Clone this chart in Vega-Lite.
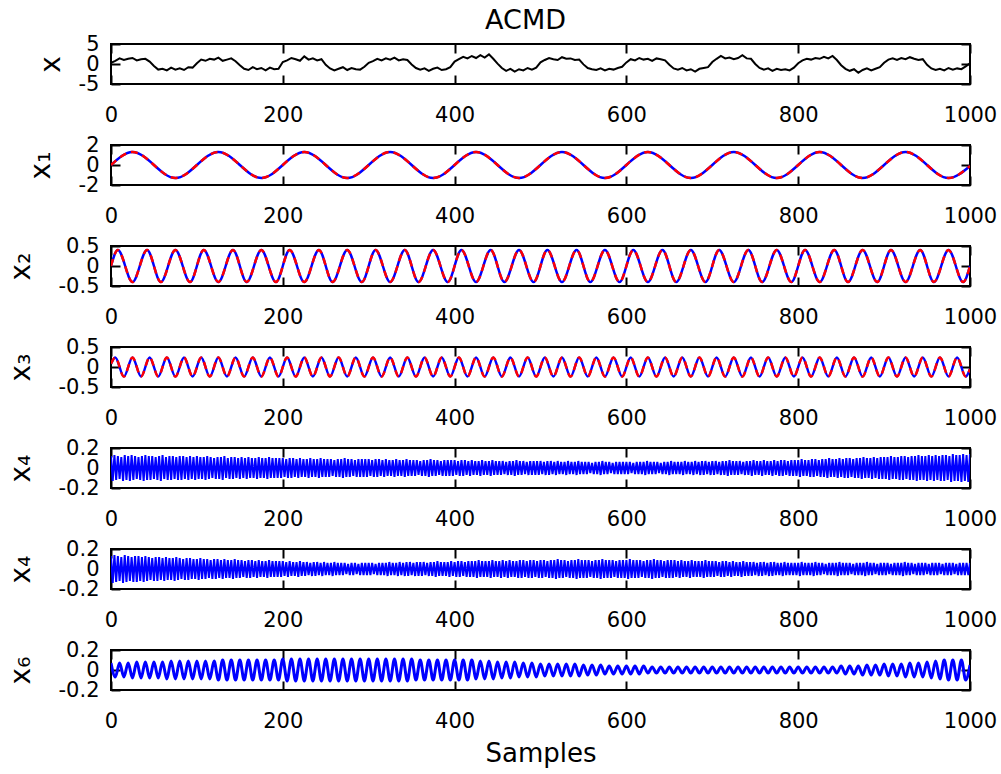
{
  "$schema": "https://vega.github.io/schema/vega-lite/v6.json",
  "usermeta": {"embedOptions": {"actions": false}},
  "background": "white",
  "padding": {"left": 6, "top": 6, "right": 5, "bottom": 5},
  "bounds": "flush",
  "spacing": 61,
  "config": {
    "font": "DejaVu Sans",
    "view": {"stroke": "black", "strokeWidth": 2},
    "axis": {
      "grid": false, "domain": false,
      "tickColor": "black", "tickWidth": 2, "tickSize": -9,
      "labelColor": "black", "labelFont": "DejaVu Sans", "labelFontSize": 21,
      "labelFlush": false, "labelOverlap": false, "labelBound": false,
      "titleColor": "black", "titleFont": "DejaVu Sans", "titleFontWeight": "normal", "titleFontSize": 28
    },
    "axisX": {"labelPadding": 29},
    "axisY": {"labelPadding": 21}
  },
  "datasets": {
    "a": [
      {"n":0,"x":0.3,"x6":0.07,"x1":0,"x3":0.08},
      {"n":5,"x":0.8,"x6":-0.07,"x3":0.24},
      {"n":10,"x":1.4,"x6":0.07},
      {"n":15,"x":1.0,"x6":-0.07,"x3":-0.24},
      {"n":20,"x":1.3,"x6":0.07},
      {"n":25,"x":1.5,"x6":-0.08,"x1":1.3,"x3":0.24},
      {"n":30,"x":0.9,"x6":0.08},
      {"n":35,"x":1.2,"x6":-0.08,"x3":-0.24},
      {"n":40,"x":1.3,"x6":0.08},
      {"n":45,"x":0.6,"x6":-0.08,"x3":0.24},
      {"n":50,"x":-0.5,"x6":0.08},
      {"n":55,"x":-1.4,"x6":-0.08,"x3":-0.24},
      {"n":60,"x":-1.2,"x6":0.08},
      {"n":65,"x":-1.6,"x6":-0.09,"x3":0.24},
      {"n":70,"x":-0.9,"x6":0.09},
      {"n":75,"x":-1.4,"x6":-0.09,"x1":-1.3,"x3":-0.24},
      {"n":80,"x":-1.1,"x6":0.09},
      {"n":85,"x":-1.5,"x6":-0.09,"x3":0.24},
      {"n":90,"x":-0.8,"x6":0.09},
      {"n":95,"x":-0.9,"x6":-0.09,"x3":-0.24},
      {"n":100,"x":0.2,"x6":0.09},
      {"n":105,"x":1.1,"x6":-0.09,"x3":0.24},
      {"n":110,"x":0.8,"x6":0.09},
      {"n":115,"x":1.3,"x6":-0.09,"x3":-0.24},
      {"n":120,"x":1.1,"x6":0.09},
      {"n":125,"x":1.6,"x6":-0.1,"x1":1.3,"x3":0.24},
      {"n":130,"x":0.8,"x6":0.1},
      {"n":135,"x":1.1,"x6":-0.1,"x3":-0.24},
      {"n":140,"x":1.4,"x6":0.1},
      {"n":145,"x":0.7,"x6":-0.1,"x3":0.24},
      {"n":150,"x":-0.3,"x6":0.1},
      {"n":155,"x":-1.2,"x6":-0.1,"x3":-0.24},
      {"n":160,"x":-1.5,"x6":0.1},
      {"n":165,"x":-0.8,"x6":-0.1,"x3":0.24},
      {"n":170,"x":-1.3,"x6":0.1},
      {"n":175,"x":-1.0,"x6":-0.1,"x1":-1.3,"x3":-0.24},
      {"n":180,"x":-1.6,"x6":0.1},
      {"n":185,"x":-0.9,"x6":-0.1,"x3":0.24},
      {"n":190,"x":-1.3,"x6":0.1},
      {"n":195,"x":-1.2,"x6":-0.1,"x3":-0.24},
      {"n":200,"x":0.5,"x6":0.11},
      {"n":205,"x":0.9,"x6":-0.11,"x3":0.24},
      {"n":210,"x":1.5,"x6":0.11},
      {"n":215,"x":1.2,"x6":-0.11,"x3":-0.24},
      {"n":220,"x":0.8,"x6":0.11},
      {"n":225,"x":1.9,"x6":-0.11,"x1":1.3,"x3":0.24},
      {"n":230,"x":1.1,"x6":0.11},
      {"n":235,"x":1.4,"x6":-0.11,"x3":-0.24},
      {"n":240,"x":0.9,"x6":0.11},
      {"n":245,"x":1.2,"x6":-0.11,"x3":0.24},
      {"n":250,"x":-0.2,"x6":0.11},
      {"n":255,"x":-1.1,"x6":-0.11,"x3":-0.24},
      {"n":260,"x":-1.6,"x6":0.11},
      {"n":265,"x":-1.2,"x6":-0.11,"x3":0.24},
      {"n":270,"x":-0.8,"x6":0.11},
      {"n":275,"x":-1.5,"x6":-0.11,"x1":-1.3,"x3":-0.24},
      {"n":280,"x":-1.0,"x6":0.11},
      {"n":285,"x":-1.3,"x6":-0.11,"x3":0.24},
      {"n":290,"x":-1.4,"x6":0.11},
      {"n":295,"x":-0.7,"x6":-0.11,"x3":-0.24},
      {"n":300,"x":0.3,"x6":0.11},
      {"n":305,"x":0.7,"x6":-0.11,"x3":0.24},
      {"n":310,"x":1.3,"x6":0.11},
      {"n":315,"x":0.9,"x6":-0.11,"x3":-0.24},
      {"n":320,"x":1.4,"x6":0.11},
      {"n":325,"x":1.1,"x6":-0.11,"x1":1.3,"x3":0.24},
      {"n":330,"x":1.6,"x6":0.11},
      {"n":335,"x":0.9,"x6":-0.11,"x3":-0.24},
      {"n":340,"x":1.2,"x6":0.11},
      {"n":345,"x":1.0,"x6":-0.11,"x3":0.24},
      {"n":350,"x":-0.1,"x6":0.11},
      {"n":355,"x":-1.0,"x6":-0.1,"x3":-0.24},
      {"n":360,"x":-1.4,"x6":0.1},
      {"n":365,"x":-1.1,"x6":-0.1,"x3":0.24},
      {"n":370,"x":-1.7,"x6":0.1},
      {"n":375,"x":-1.2,"x6":-0.1,"x1":-1.3,"x3":-0.24},
      {"n":380,"x":-0.9,"x6":0.1},
      {"n":385,"x":-1.5,"x6":-0.1,"x3":0.24},
      {"n":390,"x":-1.3,"x6":0.1},
      {"n":395,"x":-0.8,"x6":-0.1,"x3":-0.24},
      {"n":400,"x":0.6,"x6":0.1},
      {"n":405,"x":1.2,"x6":-0.1,"x3":0.24},
      {"n":410,"x":1.8,"x6":0.1},
      {"n":415,"x":1.4,"x6":-0.1,"x3":-0.24},
      {"n":420,"x":2.0,"x6":0.1},
      {"n":425,"x":1.5,"x6":-0.09,"x1":1.3,"x3":0.24},
      {"n":430,"x":2.2,"x6":0.09},
      {"n":435,"x":1.6,"x6":-0.09,"x3":-0.24},
      {"n":440,"x":2.4,"x6":0.09},
      {"n":445,"x":1.3,"x6":-0.09,"x3":0.24},
      {"n":450,"x":0.1,"x6":0.08},
      {"n":455,"x":-1.0,"x6":-0.08,"x3":-0.24},
      {"n":460,"x":-1.7,"x6":0.08},
      {"n":465,"x":-1.2,"x6":-0.08,"x3":0.24},
      {"n":470,"x":-1.9,"x6":0.08},
      {"n":475,"x":-1.3,"x6":-0.07,"x1":-1.3,"x3":-0.24},
      {"n":480,"x":-1.6,"x6":0.07},
      {"n":485,"x":-1.0,"x6":-0.07,"x3":0.24},
      {"n":490,"x":-1.4,"x6":0.07},
      {"n":495,"x":-0.9,"x6":-0.07,"x3":-0.24},
      {"n":500,"x":0.4,"x6":0.06},
      {"n":505,"x":1.0,"x6":-0.06,"x3":0.24},
      {"n":510,"x":1.5,"x6":0.06},
      {"n":515,"x":1.2,"x6":-0.06,"x3":-0.24},
      {"n":520,"x":1.0,"x6":0.06},
      {"n":525,"x":1.7,"x6":-0.06,"x1":1.3,"x3":0.24},
      {"n":530,"x":1.3,"x6":0.06},
      {"n":535,"x":1.4,"x6":-0.06,"x3":-0.24},
      {"n":540,"x":1.0,"x6":0.06},
      {"n":545,"x":1.1,"x6":-0.06,"x3":0.24},
      {"n":550,"x":-0.1,"x6":0.05},
      {"n":555,"x":-1.0,"x6":-0.05,"x3":-0.24},
      {"n":560,"x":-1.3,"x6":0.05},
      {"n":565,"x":-1.5,"x6":-0.05,"x3":0.24},
      {"n":570,"x":-1.1,"x6":0.05},
      {"n":575,"x":-1.6,"x6":-0.04,"x1":-1.3,"x3":-0.24},
      {"n":580,"x":-1.2,"x6":0.04},
      {"n":585,"x":-1.4,"x6":-0.04,"x3":0.24},
      {"n":590,"x":-1.0,"x6":0.04},
      {"n":595,"x":-0.7,"x6":-0.04,"x3":-0.24},
      {"n":600,"x":0.4,"x6":0.04},
      {"n":605,"x":1.2,"x6":-0.04,"x3":0.24},
      {"n":610,"x":0.9,"x6":0.04},
      {"n":615,"x":1.5,"x6":-0.04,"x3":-0.24},
      {"n":620,"x":1.1,"x6":0.04},
      {"n":625,"x":1.3,"x6":-0.03,"x1":1.3,"x3":0.24},
      {"n":630,"x":0.8,"x6":0.03},
      {"n":635,"x":1.4,"x6":-0.03,"x3":-0.24},
      {"n":640,"x":1.2,"x6":0.03},
      {"n":645,"x":0.9,"x6":-0.03,"x3":0.24},
      {"n":650,"x":-0.2,"x6":0.03},
      {"n":655,"x":-1.1,"x6":-0.03,"x3":-0.24},
      {"n":660,"x":-1.4,"x6":0.03},
      {"n":665,"x":-1.0,"x6":-0.03,"x3":0.24},
      {"n":670,"x":-1.6,"x6":0.03},
      {"n":675,"x":-1.3,"x6":-0.03,"x1":-1.3,"x3":-0.24},
      {"n":680,"x":-1.9,"x6":0.03},
      {"n":685,"x":-1.2,"x6":-0.03,"x3":0.24},
      {"n":690,"x":-1.0,"x6":0.03},
      {"n":695,"x":-0.8,"x6":-0.03,"x3":-0.24},
      {"n":700,"x":0.5,"x6":0.03},
      {"n":705,"x":1.3,"x6":-0.03,"x3":0.24},
      {"n":710,"x":2.0,"x6":0.03},
      {"n":715,"x":1.4,"x6":-0.03,"x3":-0.24},
      {"n":720,"x":1.6,"x6":0.03},
      {"n":725,"x":1.2,"x6":-0.03,"x1":1.3,"x3":0.24},
      {"n":730,"x":1.5,"x6":0.03},
      {"n":735,"x":2.2,"x6":-0.03,"x3":-0.24},
      {"n":740,"x":1.4,"x6":0.03},
      {"n":745,"x":1.3,"x6":-0.03,"x3":0.24},
      {"n":750,"x":0.0,"x6":0.03},
      {"n":755,"x":-1.0,"x6":-0.03,"x3":-0.24},
      {"n":760,"x":-1.4,"x6":0.03},
      {"n":765,"x":-1.1,"x6":-0.03,"x3":0.24},
      {"n":770,"x":-1.7,"x6":0.03},
      {"n":775,"x":-1.2,"x6":-0.03,"x1":-1.3,"x3":-0.24},
      {"n":780,"x":-1.5,"x6":0.03},
      {"n":785,"x":-1.3,"x6":-0.03,"x3":0.24},
      {"n":790,"x":-1.6,"x6":0.03},
      {"n":795,"x":-0.9,"x6":-0.03,"x3":-0.24},
      {"n":800,"x":0.2,"x6":0.03},
      {"n":805,"x":0.9,"x6":-0.03,"x3":0.24},
      {"n":810,"x":1.3,"x6":0.03},
      {"n":815,"x":1.1,"x6":-0.03,"x3":-0.24},
      {"n":820,"x":1.5,"x6":0.03},
      {"n":825,"x":1.3,"x6":-0.03,"x1":1.3,"x3":0.24},
      {"n":830,"x":1.8,"x6":0.03},
      {"n":835,"x":1.4,"x6":-0.03,"x3":-0.24},
      {"n":840,"x":2.0,"x6":0.03},
      {"n":845,"x":1.0,"x6":-0.03,"x3":0.24},
      {"n":850,"x":-0.3,"x6":0.04},
      {"n":855,"x":-1.2,"x6":-0.04,"x3":-0.24},
      {"n":860,"x":-1.7,"x6":0.04},
      {"n":865,"x":-1.3,"x6":-0.04,"x3":0.24},
      {"n":870,"x":-2.2,"x6":0.04},
      {"n":875,"x":-1.5,"x6":-0.05,"x1":-1.3,"x3":-0.24},
      {"n":880,"x":-1.1,"x6":0.05},
      {"n":885,"x":-1.6,"x6":-0.05,"x3":0.24},
      {"n":890,"x":-1.2,"x6":0.05},
      {"n":895,"x":-0.8,"x6":-0.05,"x3":-0.24},
      {"n":900,"x":0.3,"x6":0.06},
      {"n":905,"x":1.1,"x6":-0.06,"x3":0.24},
      {"n":910,"x":1.4,"x6":0.06},
      {"n":915,"x":1.0,"x6":-0.06,"x3":-0.24},
      {"n":920,"x":1.5,"x6":0.06},
      {"n":925,"x":1.2,"x6":-0.07,"x1":1.3,"x3":0.24},
      {"n":930,"x":1.7,"x6":0.07},
      {"n":935,"x":1.3,"x6":-0.07,"x3":-0.24},
      {"n":940,"x":1.0,"x6":0.07},
      {"n":945,"x":1.2,"x6":-0.07,"x3":0.24},
      {"n":950,"x":-0.2,"x6":0.08},
      {"n":955,"x":-1.1,"x6":-0.08,"x3":-0.24},
      {"n":960,"x":-1.5,"x6":0.09},
      {"n":965,"x":-1.2,"x6":-0.09,"x3":0.24},
      {"n":970,"x":-1.6,"x6":0.1},
      {"n":975,"x":-1.0,"x6":-0.1,"x1":-1.3,"x3":-0.24},
      {"n":980,"x":-1.4,"x6":0.1},
      {"n":985,"x":-1.1,"x6":-0.1,"x3":0.24},
      {"n":990,"x":-1.3,"x6":0.1},
      {"n":995,"x":-0.6,"x6":-0.1,"x3":-0.24},
      {"n":1000,"x":0.2,"x6":0.05,"x1":-0.1,"x3":-0.05}
    ],
    "c": [
      {"n":0,"x2":0},{"n":8,"x2":0.4},{"n":25,"x2":-0.4},{"n":42,"x2":0.4},{"n":58,"x2":-0.4},
      {"n":75,"x2":0.4},{"n":92,"x2":-0.4},{"n":108,"x2":0.4},{"n":125,"x2":-0.4},{"n":142,"x2":0.4},
      {"n":158,"x2":-0.4},{"n":175,"x2":0.4},{"n":192,"x2":-0.4},{"n":208,"x2":0.4},{"n":225,"x2":-0.4},
      {"n":242,"x2":0.4},{"n":258,"x2":-0.4},{"n":275,"x2":0.4},{"n":292,"x2":-0.4},{"n":308,"x2":0.4},
      {"n":325,"x2":-0.4},{"n":342,"x2":0.4},{"n":358,"x2":-0.4},{"n":375,"x2":0.4},{"n":392,"x2":-0.4},
      {"n":408,"x2":0.4},{"n":425,"x2":-0.4},{"n":442,"x2":0.4},{"n":458,"x2":-0.4},{"n":475,"x2":0.4},
      {"n":492,"x2":-0.4},{"n":508,"x2":0.4},{"n":525,"x2":-0.4},{"n":542,"x2":0.4},{"n":558,"x2":-0.4},
      {"n":575,"x2":0.4},{"n":592,"x2":-0.4},{"n":608,"x2":0.4},{"n":625,"x2":-0.4},{"n":642,"x2":0.4},
      {"n":658,"x2":-0.4},{"n":675,"x2":0.4},{"n":692,"x2":-0.4},{"n":708,"x2":0.4},{"n":725,"x2":-0.4},
      {"n":742,"x2":0.4},{"n":758,"x2":-0.4},{"n":775,"x2":0.4},{"n":792,"x2":-0.4},{"n":808,"x2":0.4},
      {"n":825,"x2":-0.4},{"n":842,"x2":0.4},{"n":858,"x2":-0.4},{"n":875,"x2":0.4},{"n":892,"x2":-0.4},
      {"n":908,"x2":0.4},{"n":925,"x2":-0.4},{"n":942,"x2":0.4},{"n":958,"x2":-0.4},{"n":975,"x2":0.4},
      {"n":992,"x2":-0.4},{"n":1000,"x2":0}
    ],
    "b": [
      {"n":0,"a":0.12,"b":0.13},{"n":2,"a":-0.13,"b":-0.14},{"n":4,"a":0.13,"b":0.14},{"n":6,"a":-0.12,"b":-0.13},{"n":8,"a":0.12,"b":0.13},{"n":10,"a":-0.11,"b":-0.12},{"n":12,"a":0.11,"b":0.12},{"n":14,"a":-0.13,"b":-0.14},{"n":16,"a":0.13,"b":0.14},{"n":18,"a":-0.12,"b":-0.13},
      {"n":20,"a":0.12,"b":0.13},{"n":22,"a":-0.13,"b":-0.12},{"n":24,"a":0.13,"b":0.12},{"n":26,"a":-0.12,"b":-0.13},{"n":28,"a":0.12,"b":0.13},{"n":30,"a":-0.11,"b":-0.13},{"n":32,"a":0.11,"b":0.13},{"n":34,"a":-0.12,"b":-0.12},{"n":36,"a":0.12,"b":0.12},{"n":38,"a":-0.13,"b":-0.13},
      {"n":40,"a":0.13,"b":0.13},{"n":42,"a":-0.12,"b":-0.12},{"n":44,"a":0.12,"b":0.12},{"n":46,"a":-0.12,"b":-0.11},{"n":48,"a":0.12,"b":0.11},{"n":50,"a":-0.11,"b":-0.12},{"n":52,"a":0.11,"b":0.12},{"n":54,"a":-0.12,"b":-0.12},{"n":56,"a":0.12,"b":0.12},{"n":58,"a":-0.13,"b":-0.11},
      {"n":60,"a":0.13,"b":0.11},{"n":62,"a":-0.11,"b":-0.12},{"n":64,"a":0.11,"b":0.12},{"n":66,"a":-0.12,"b":-0.11},{"n":68,"a":0.12,"b":0.11},{"n":70,"a":-0.12,"b":-0.11},{"n":72,"a":0.12,"b":0.11},{"n":74,"a":-0.11,"b":-0.12},{"n":76,"a":0.11,"b":0.12},{"n":78,"a":-0.12,"b":-0.11},
      {"n":80,"a":0.12,"b":0.11},{"n":82,"a":-0.12,"b":-0.1},{"n":84,"a":0.12,"b":0.1},{"n":86,"a":-0.11,"b":-0.11},{"n":88,"a":0.11,"b":0.11},{"n":90,"a":-0.12,"b":-0.11},{"n":92,"a":0.12,"b":0.11},{"n":94,"a":-0.11,"b":-0.1},{"n":96,"a":0.11,"b":0.1},{"n":98,"a":-0.12,"b":-0.1},
      {"n":100,"a":0.12,"b":0.1},{"n":102,"a":-0.11,"b":-0.11},{"n":104,"a":0.11,"b":0.11},{"n":106,"a":-0.11,"b":-0.1},{"n":108,"a":0.11,"b":0.1},{"n":110,"a":-0.12,"b":-0.1},{"n":112,"a":0.12,"b":0.1},{"n":114,"a":-0.11,"b":-0.09},{"n":116,"a":0.11,"b":0.09},{"n":118,"a":-0.1,"b":-0.1},
      {"n":120,"a":0.1,"b":0.1},{"n":122,"a":-0.11,"b":-0.1},{"n":124,"a":0.11,"b":0.1},{"n":126,"a":-0.11,"b":-0.09},{"n":128,"a":0.11,"b":0.09},{"n":130,"a":-0.12,"b":-0.1},{"n":132,"a":0.12,"b":0.1},{"n":134,"a":-0.1,"b":-0.09},{"n":136,"a":0.1,"b":0.09},{"n":138,"a":-0.11,"b":-0.09},
      {"n":140,"a":0.11,"b":0.09},{"n":142,"a":-0.11,"b":-0.1},{"n":144,"a":0.11,"b":0.1},{"n":146,"a":-0.1,"b":-0.09},{"n":148,"a":0.1,"b":0.09},{"n":150,"a":-0.11,"b":-0.09},{"n":152,"a":0.11,"b":0.09},{"n":154,"a":-0.1,"b":-0.08},{"n":156,"a":0.1,"b":0.08},{"n":158,"a":-0.11,"b":-0.09},
      {"n":160,"a":0.11,"b":0.09},{"n":162,"a":-0.1,"b":-0.09},{"n":164,"a":0.1,"b":0.09},{"n":166,"a":-0.1,"b":-0.08},{"n":168,"a":0.1,"b":0.08},{"n":170,"a":-0.11,"b":-0.09},{"n":172,"a":0.11,"b":0.09},{"n":174,"a":-0.1,"b":-0.08},{"n":176,"a":0.1,"b":0.08},{"n":178,"a":-0.1,"b":-0.08},
      {"n":180,"a":0.1,"b":0.08},{"n":182,"a":-0.11,"b":-0.09},{"n":184,"a":0.11,"b":0.09},{"n":186,"a":-0.1,"b":-0.08},{"n":188,"a":0.1,"b":0.08},{"n":190,"a":-0.1,"b":-0.08},{"n":192,"a":0.1,"b":0.08},{"n":194,"a":-0.1,"b":-0.08},{"n":196,"a":0.1,"b":0.08},{"n":198,"a":-0.1,"b":-0.08},
      {"n":200,"a":0.1,"b":0.08},{"n":202,"a":-0.09,"b":-0.07},{"n":204,"a":0.09,"b":0.07},{"n":206,"a":-0.1,"b":-0.08},{"n":208,"a":0.1,"b":0.08},{"n":210,"a":-0.1,"b":-0.07},{"n":212,"a":0.1,"b":0.07},{"n":214,"a":-0.09,"b":-0.07},{"n":216,"a":0.09,"b":0.07},{"n":218,"a":-0.1,"b":-0.08},
      {"n":220,"a":0.1,"b":0.08},{"n":222,"a":-0.09,"b":-0.07},{"n":224,"a":0.09,"b":0.07},{"n":226,"a":-0.09,"b":-0.07},{"n":228,"a":0.09,"b":0.07},{"n":230,"a":-0.1,"b":-0.06},{"n":232,"a":0.1,"b":0.06},{"n":234,"a":-0.09,"b":-0.07},{"n":236,"a":0.09,"b":0.07},{"n":238,"a":-0.09,"b":-0.07},
      {"n":240,"a":0.09,"b":0.07},{"n":242,"a":-0.1,"b":-0.06},{"n":244,"a":0.1,"b":0.06},{"n":246,"a":-0.09,"b":-0.07},{"n":248,"a":0.09,"b":0.07},{"n":250,"a":-0.09,"b":-0.06},{"n":252,"a":0.09,"b":0.06},{"n":254,"a":-0.09,"b":-0.06},{"n":256,"a":0.09,"b":0.06},{"n":258,"a":-0.08,"b":-0.07},
      {"n":260,"a":0.08,"b":0.07},{"n":262,"a":-0.09,"b":-0.06},{"n":264,"a":0.09,"b":0.06},{"n":266,"a":-0.09,"b":-0.06},{"n":268,"a":0.09,"b":0.06},{"n":270,"a":-0.1,"b":-0.06},{"n":272,"a":0.1,"b":0.06},{"n":274,"a":-0.09,"b":-0.05},{"n":276,"a":0.09,"b":0.05},{"n":278,"a":-0.09,"b":-0.06},
      {"n":280,"a":0.09,"b":0.06},{"n":282,"a":-0.08,"b":-0.06},{"n":284,"a":0.08,"b":0.06},{"n":286,"a":-0.09,"b":-0.05},{"n":288,"a":0.09,"b":0.05},{"n":290,"a":-0.09,"b":-0.06},{"n":292,"a":0.09,"b":0.06},{"n":294,"a":-0.09,"b":-0.06},{"n":296,"a":0.09,"b":0.06},{"n":298,"a":-0.09,"b":-0.06},
      {"n":300,"a":0.09,"b":0.06},{"n":302,"a":-0.08,"b":-0.06},{"n":304,"a":0.08,"b":0.06},{"n":306,"a":-0.09,"b":-0.05},{"n":308,"a":0.09,"b":0.05},{"n":310,"a":-0.09,"b":-0.06},{"n":312,"a":0.09,"b":0.06},{"n":314,"a":-0.08,"b":-0.06},{"n":316,"a":0.08,"b":0.06},{"n":318,"a":-0.09,"b":-0.06},
      {"n":320,"a":0.09,"b":0.06},{"n":322,"a":-0.08,"b":-0.07},{"n":324,"a":0.08,"b":0.07},{"n":326,"a":-0.08,"b":-0.06},{"n":328,"a":0.08,"b":0.06},{"n":330,"a":-0.09,"b":-0.06},{"n":332,"a":0.09,"b":0.06},{"n":334,"a":-0.08,"b":-0.07},{"n":336,"a":0.08,"b":0.07},{"n":338,"a":-0.08,"b":-0.06},
      {"n":340,"a":0.08,"b":0.06},{"n":342,"a":-0.09,"b":-0.07},{"n":344,"a":0.09,"b":0.07},{"n":346,"a":-0.08,"b":-0.07},{"n":348,"a":0.08,"b":0.07},{"n":350,"a":-0.08,"b":-0.06},{"n":352,"a":0.08,"b":0.06},{"n":354,"a":-0.08,"b":-0.07},{"n":356,"a":0.08,"b":0.07},{"n":358,"a":-0.07,"b":-0.07},
      {"n":360,"a":0.07,"b":0.07},{"n":362,"a":-0.08,"b":-0.07},{"n":364,"a":0.08,"b":0.07},{"n":366,"a":-0.08,"b":-0.06},{"n":368,"a":0.08,"b":0.06},{"n":370,"a":-0.09,"b":-0.07},{"n":372,"a":0.09,"b":0.07},{"n":374,"a":-0.08,"b":-0.07},{"n":376,"a":0.08,"b":0.07},{"n":378,"a":-0.08,"b":-0.08},
      {"n":380,"a":0.08,"b":0.08},{"n":382,"a":-0.07,"b":-0.07},{"n":384,"a":0.07,"b":0.07},{"n":386,"a":-0.08,"b":-0.07},{"n":388,"a":0.08,"b":0.07},{"n":390,"a":-0.08,"b":-0.07},{"n":392,"a":0.08,"b":0.07},{"n":394,"a":-0.08,"b":-0.08},{"n":396,"a":0.08,"b":0.08},{"n":398,"a":-0.08,"b":-0.07},
      {"n":400,"a":0.08,"b":0.07},{"n":402,"a":-0.07,"b":-0.08},{"n":404,"a":0.07,"b":0.08},{"n":406,"a":-0.08,"b":-0.08},{"n":408,"a":0.08,"b":0.08},{"n":410,"a":-0.08,"b":-0.07},{"n":412,"a":0.08,"b":0.07},{"n":414,"a":-0.07,"b":-0.08},{"n":416,"a":0.07,"b":0.08},{"n":418,"a":-0.08,"b":-0.08},
      {"n":420,"a":0.08,"b":0.08},{"n":422,"a":-0.07,"b":-0.08},{"n":424,"a":0.07,"b":0.08},{"n":426,"a":-0.07,"b":-0.09},{"n":428,"a":0.07,"b":0.09},{"n":430,"a":-0.08,"b":-0.08},{"n":432,"a":0.08,"b":0.08},{"n":434,"a":-0.07,"b":-0.08},{"n":436,"a":0.07,"b":0.08},{"n":438,"a":-0.07,"b":-0.08},
      {"n":440,"a":0.07,"b":0.08},{"n":442,"a":-0.08,"b":-0.09},{"n":444,"a":0.08,"b":0.09},{"n":446,"a":-0.07,"b":-0.08},{"n":448,"a":0.07,"b":0.08},{"n":450,"a":-0.07,"b":-0.08},{"n":452,"a":0.07,"b":0.08},{"n":454,"a":-0.07,"b":-0.09},{"n":456,"a":0.07,"b":0.09},{"n":458,"a":-0.06,"b":-0.08},
      {"n":460,"a":0.06,"b":0.08},{"n":462,"a":-0.07,"b":-0.09},{"n":464,"a":0.07,"b":0.09},{"n":466,"a":-0.07,"b":-0.08},{"n":468,"a":0.07,"b":0.08},{"n":470,"a":-0.08,"b":-0.08},{"n":472,"a":0.08,"b":0.08},{"n":474,"a":-0.07,"b":-0.09},{"n":476,"a":0.07,"b":0.09},{"n":478,"a":-0.07,"b":-0.09},
      {"n":480,"a":0.07,"b":0.09},{"n":482,"a":-0.06,"b":-0.08},{"n":484,"a":0.06,"b":0.08},{"n":486,"a":-0.07,"b":-0.09},{"n":488,"a":0.07,"b":0.09},{"n":490,"a":-0.07,"b":-0.09},{"n":492,"a":0.07,"b":0.09},{"n":494,"a":-0.07,"b":-0.08},{"n":496,"a":0.07,"b":0.08},{"n":498,"a":-0.07,"b":-0.09},
      {"n":500,"a":0.07,"b":0.09},{"n":502,"a":-0.06,"b":-0.09},{"n":504,"a":0.06,"b":0.09},{"n":506,"a":-0.07,"b":-0.08},{"n":508,"a":0.07,"b":0.08},{"n":510,"a":-0.07,"b":-0.09},{"n":512,"a":0.07,"b":0.09},{"n":514,"a":-0.06,"b":-0.09},{"n":516,"a":0.06,"b":0.09},{"n":518,"a":-0.07,"b":-0.1},
      {"n":520,"a":0.07,"b":0.1},{"n":522,"a":-0.06,"b":-0.09},{"n":524,"a":0.06,"b":0.09},{"n":526,"a":-0.06,"b":-0.09},{"n":528,"a":0.06,"b":0.09},{"n":530,"a":-0.07,"b":-0.08},{"n":532,"a":0.07,"b":0.08},{"n":534,"a":-0.06,"b":-0.09},{"n":536,"a":0.06,"b":0.09},{"n":538,"a":-0.06,"b":-0.09},
      {"n":540,"a":0.06,"b":0.09},{"n":542,"a":-0.07,"b":-0.1},{"n":544,"a":0.07,"b":0.1},{"n":546,"a":-0.06,"b":-0.09},{"n":548,"a":0.06,"b":0.09},{"n":550,"a":-0.06,"b":-0.09},{"n":552,"a":0.06,"b":0.09},{"n":554,"a":-0.06,"b":-0.09},{"n":556,"a":0.06,"b":0.09},{"n":558,"a":-0.05,"b":-0.08},
      {"n":560,"a":0.05,"b":0.08},{"n":562,"a":-0.06,"b":-0.09},{"n":564,"a":0.06,"b":0.09},{"n":566,"a":-0.06,"b":-0.09},{"n":568,"a":0.06,"b":0.09},{"n":570,"a":-0.07,"b":-0.1},{"n":572,"a":0.07,"b":0.1},{"n":574,"a":-0.06,"b":-0.09},{"n":576,"a":0.06,"b":0.09},{"n":578,"a":-0.06,"b":-0.09},
      {"n":580,"a":0.06,"b":0.09},{"n":582,"a":-0.05,"b":-0.09},{"n":584,"a":0.05,"b":0.09},{"n":586,"a":-0.06,"b":-0.08},{"n":588,"a":0.06,"b":0.08},{"n":590,"a":-0.06,"b":-0.09},{"n":592,"a":0.06,"b":0.09},{"n":594,"a":-0.06,"b":-0.09},{"n":596,"a":0.06,"b":0.09},{"n":598,"a":-0.06,"b":-0.09},
      {"n":600,"a":0.06,"b":0.09},{"n":602,"a":-0.06,"b":-0.1},{"n":604,"a":0.06,"b":0.1},{"n":606,"a":-0.05,"b":-0.09},{"n":608,"a":0.05,"b":0.09},{"n":610,"a":-0.06,"b":-0.09},{"n":612,"a":0.06,"b":0.09},{"n":614,"a":-0.06,"b":-0.09},{"n":616,"a":0.06,"b":0.09},{"n":618,"a":-0.06,"b":-0.08},
      {"n":620,"a":0.06,"b":0.08},{"n":622,"a":-0.07,"b":-0.09},{"n":624,"a":0.07,"b":0.09},{"n":626,"a":-0.06,"b":-0.09},{"n":628,"a":0.06,"b":0.09},{"n":630,"a":-0.06,"b":-0.1},{"n":632,"a":0.06,"b":0.1},{"n":634,"a":-0.06,"b":-0.09},{"n":636,"a":0.06,"b":0.09},{"n":638,"a":-0.05,"b":-0.09},
      {"n":640,"a":0.05,"b":0.09},{"n":642,"a":-0.06,"b":-0.08},{"n":644,"a":0.06,"b":0.08},{"n":646,"a":-0.06,"b":-0.09},{"n":648,"a":0.06,"b":0.09},{"n":650,"a":-0.07,"b":-0.09},{"n":652,"a":0.07,"b":0.09},{"n":654,"a":-0.06,"b":-0.09},{"n":656,"a":0.06,"b":0.09},{"n":658,"a":-0.06,"b":-0.08},
      {"n":660,"a":0.06,"b":0.08},{"n":662,"a":-0.06,"b":-0.09},{"n":664,"a":0.06,"b":0.09},{"n":666,"a":-0.07,"b":-0.08},{"n":668,"a":0.07,"b":0.08},{"n":670,"a":-0.06,"b":-0.08},{"n":672,"a":0.06,"b":0.08},{"n":674,"a":-0.06,"b":-0.09},{"n":676,"a":0.06,"b":0.09},{"n":678,"a":-0.07,"b":-0.08},
      {"n":680,"a":0.07,"b":0.08},{"n":682,"a":-0.06,"b":-0.08},{"n":684,"a":0.06,"b":0.08},{"n":686,"a":-0.07,"b":-0.08},{"n":688,"a":0.07,"b":0.08},{"n":690,"a":-0.07,"b":-0.09},{"n":692,"a":0.07,"b":0.09},{"n":694,"a":-0.06,"b":-0.08},{"n":696,"a":0.06,"b":0.08},{"n":698,"a":-0.07,"b":-0.08},
      {"n":700,"a":0.07,"b":0.08},{"n":702,"a":-0.07,"b":-0.08},{"n":704,"a":0.07,"b":0.08},{"n":706,"a":-0.06,"b":-0.07},{"n":708,"a":0.06,"b":0.07},{"n":710,"a":-0.07,"b":-0.08},{"n":712,"a":0.07,"b":0.08},{"n":714,"a":-0.07,"b":-0.08},{"n":716,"a":0.07,"b":0.08},{"n":718,"a":-0.08,"b":-0.07},
      {"n":720,"a":0.08,"b":0.07},{"n":722,"a":-0.07,"b":-0.08},{"n":724,"a":0.07,"b":0.08},{"n":726,"a":-0.07,"b":-0.07},{"n":728,"a":0.07,"b":0.07},{"n":730,"a":-0.07,"b":-0.07},{"n":732,"a":0.07,"b":0.07},{"n":734,"a":-0.06,"b":-0.08},{"n":736,"a":0.06,"b":0.08},{"n":738,"a":-0.07,"b":-0.07},
      {"n":740,"a":0.07,"b":0.07},{"n":742,"a":-0.07,"b":-0.07},{"n":744,"a":0.07,"b":0.07},{"n":746,"a":-0.08,"b":-0.07},{"n":748,"a":0.08,"b":0.07},{"n":750,"a":-0.07,"b":-0.06},{"n":752,"a":0.07,"b":0.06},{"n":754,"a":-0.07,"b":-0.07},{"n":756,"a":0.07,"b":0.07},{"n":758,"a":-0.08,"b":-0.07},
      {"n":760,"a":0.08,"b":0.07},{"n":762,"a":-0.07,"b":-0.06},{"n":764,"a":0.07,"b":0.06},{"n":766,"a":-0.07,"b":-0.07},{"n":768,"a":0.07,"b":0.07},{"n":770,"a":-0.08,"b":-0.07},{"n":772,"a":0.08,"b":0.07},{"n":774,"a":-0.07,"b":-0.06},{"n":776,"a":0.07,"b":0.06},{"n":778,"a":-0.08,"b":-0.06},
      {"n":780,"a":0.08,"b":0.06},{"n":782,"a":-0.08,"b":-0.07},{"n":784,"a":0.08,"b":0.07},{"n":786,"a":-0.07,"b":-0.06},{"n":788,"a":0.07,"b":0.06},{"n":790,"a":-0.08,"b":-0.06},{"n":792,"a":0.08,"b":0.06},{"n":794,"a":-0.08,"b":-0.06},{"n":796,"a":0.08,"b":0.06},{"n":798,"a":-0.08,"b":-0.06},
      {"n":800,"a":0.08,"b":0.06},{"n":802,"a":-0.09,"b":-0.07},{"n":804,"a":0.09,"b":0.07},{"n":806,"a":-0.08,"b":-0.06},{"n":808,"a":0.08,"b":0.06},{"n":810,"a":-0.08,"b":-0.06},{"n":812,"a":0.08,"b":0.06},{"n":814,"a":-0.09,"b":-0.06},{"n":816,"a":0.09,"b":0.06},{"n":818,"a":-0.09,"b":-0.07},
      {"n":820,"a":0.09,"b":0.07},{"n":822,"a":-0.08,"b":-0.06},{"n":824,"a":0.08,"b":0.06},{"n":826,"a":-0.09,"b":-0.06},{"n":828,"a":0.09,"b":0.06},{"n":830,"a":-0.09,"b":-0.05},{"n":832,"a":0.09,"b":0.05},{"n":834,"a":-0.1,"b":-0.06},{"n":836,"a":0.1,"b":0.06},{"n":838,"a":-0.09,"b":-0.06},
      {"n":840,"a":0.09,"b":0.06},{"n":842,"a":-0.09,"b":-0.06},{"n":844,"a":0.09,"b":0.06},{"n":846,"a":-0.1,"b":-0.07},{"n":848,"a":0.1,"b":0.07},{"n":850,"a":-0.09,"b":-0.06},{"n":852,"a":0.09,"b":0.06},{"n":854,"a":-0.1,"b":-0.06},{"n":856,"a":0.1,"b":0.06},{"n":858,"a":-0.1,"b":-0.06},
      {"n":860,"a":0.1,"b":0.06},{"n":862,"a":-0.09,"b":-0.05},{"n":864,"a":0.09,"b":0.05},{"n":866,"a":-0.1,"b":-0.06},{"n":868,"a":0.1,"b":0.06},{"n":870,"a":-0.1,"b":-0.06},{"n":872,"a":0.1,"b":0.06},{"n":874,"a":-0.11,"b":-0.06},{"n":876,"a":0.11,"b":0.06},{"n":878,"a":-0.1,"b":-0.07},
      {"n":880,"a":0.1,"b":0.07},{"n":882,"a":-0.1,"b":-0.06},{"n":884,"a":0.1,"b":0.06},{"n":886,"a":-0.11,"b":-0.06},{"n":888,"a":0.11,"b":0.06},{"n":890,"a":-0.1,"b":-0.05},{"n":892,"a":0.1,"b":0.05},{"n":894,"a":-0.11,"b":-0.06},{"n":896,"a":0.11,"b":0.06},{"n":898,"a":-0.11,"b":-0.06},
      {"n":900,"a":0.11,"b":0.06},{"n":902,"a":-0.11,"b":-0.06},{"n":904,"a":0.11,"b":0.06},{"n":906,"a":-0.12,"b":-0.05},{"n":908,"a":0.12,"b":0.05},{"n":910,"a":-0.11,"b":-0.06},{"n":912,"a":0.11,"b":0.06},{"n":914,"a":-0.11,"b":-0.06},{"n":916,"a":0.11,"b":0.06},{"n":918,"a":-0.12,"b":-0.06},
      {"n":920,"a":0.12,"b":0.06},{"n":922,"a":-0.12,"b":-0.07},{"n":924,"a":0.12,"b":0.07},{"n":926,"a":-0.11,"b":-0.06},{"n":928,"a":0.11,"b":0.06},{"n":930,"a":-0.12,"b":-0.06},{"n":932,"a":0.12,"b":0.06},{"n":934,"a":-0.12,"b":-0.05},{"n":936,"a":0.12,"b":0.05},{"n":938,"a":-0.13,"b":-0.06},
      {"n":940,"a":0.13,"b":0.06},{"n":942,"a":-0.12,"b":-0.06},{"n":944,"a":0.12,"b":0.06},{"n":946,"a":-0.12,"b":-0.06},{"n":948,"a":0.12,"b":0.06},{"n":950,"a":-0.13,"b":-0.05},{"n":952,"a":0.13,"b":0.05},{"n":954,"a":-0.12,"b":-0.06},{"n":956,"a":0.12,"b":0.06},{"n":958,"a":-0.13,"b":-0.06},
      {"n":960,"a":0.13,"b":0.06},{"n":962,"a":-0.12,"b":-0.06},{"n":964,"a":0.12,"b":0.06},{"n":966,"a":-0.13,"b":-0.05},{"n":968,"a":0.13,"b":0.05},{"n":970,"a":-0.13,"b":-0.06},{"n":972,"a":0.13,"b":0.06},{"n":974,"a":-0.12,"b":-0.06},{"n":976,"a":0.12,"b":0.06},{"n":978,"a":-0.14,"b":-0.06},
      {"n":980,"a":0.14,"b":0.06},{"n":982,"a":-0.13,"b":-0.05},{"n":984,"a":0.13,"b":0.05},{"n":986,"a":-0.13,"b":-0.06},{"n":988,"a":0.13,"b":0.06},{"n":990,"a":-0.14,"b":-0.06},{"n":992,"a":0.14,"b":0.06},{"n":994,"a":-0.13,"b":-0.06},{"n":996,"a":0.13,"b":0.06},{"n":998,"a":-0.14,"b":-0.06},
      {"n":1000,"a":0.14,"b":0.06}
    ]
  },
  "vconcat": [
    {
      "width": 859, "height": 40,
      "title": {"text": "ACMD", "fontSize": 27, "fontWeight": "normal", "font": "DejaVu Sans", "color": "black", "frame": "group", "offset": -2, "dx": -15},
      "resolve": {"axis": {"x": "independent", "y": "independent"}},
      "layer": [
        {"data": {"name": "a"},
         "mark": {"type": "line", "color": "black", "strokeWidth": 2, "clip": true},
         "encoding": {
           "x": {"field": "n", "type": "quantitative", "scale": {"domain": [0, 1000], "nice": false, "zero": false}, "axis": {"values": [0, 200, 400, 600, 800, 1000], "title": null, "labelExpr": "'' + datum.value"}},
           "y": {"field": "x", "type": "quantitative", "scale": {"domain": [-5, 5], "nice": false, "zero": false}, "axis": {"values": [-5, 0, 5], "title": "x", "titlePadding": 13, "labelExpr": "datum.value < 0 ? '-' + abs(datum.value) : '' + datum.value"}}
         }},
        {"data": {"name": "a"},
         "mark": {"type": "line", "opacity": 0},
         "encoding": {
           "x": {"field": "n", "type": "quantitative", "scale": {"domain": [0, 1000], "nice": false, "zero": false}, "axis": {"orient": "top", "values": [0, 200, 400, 600, 800, 1000], "labels": false, "title": null}},
           "y": {"field": "x", "type": "quantitative", "scale": {"domain": [-5, 5], "nice": false, "zero": false}, "axis": {"orient": "right", "values": [-5, 0, 5], "labels": false, "title": null}}
         }}
      ]
    },
    {
      "width": 859, "height": 40,
      "resolve": {"axis": {"x": "independent", "y": "independent"}},
      "transform": [{"filter": "isValid(datum.x1)"}],
      "data": {"name": "a"},
      "layer": [
        {"mark": {"type": "line", "color": "#0000ff", "strokeWidth": 2.5, "interpolate": "monotone", "clip": true},
         "encoding": {
           "x": {"field": "n", "type": "quantitative", "scale": {"domain": [0, 1000], "nice": false, "zero": false}, "axis": {"values": [0, 200, 400, 600, 800, 1000], "title": null, "labelExpr": "'' + datum.value"}},
           "y": {"field": "x1", "type": "quantitative", "scale": {"domain": [-2, 2], "nice": false, "zero": false}, "axis": {"values": [-2, 0, 2], "title": "x₁", "titlePadding": 23, "labelExpr": "datum.value < 0 ? '-' + abs(datum.value) : '' + datum.value"}}
         }},
        {"mark": {"type": "line", "color": "#ff0000", "strokeWidth": 2.5, "strokeDash": [7, 5], "interpolate": "monotone", "clip": true},
         "encoding": {
           "x": {"field": "n", "type": "quantitative", "scale": {"domain": [0, 1000], "nice": false, "zero": false}, "axis": {"orient": "top", "values": [0, 200, 400, 600, 800, 1000], "labels": false, "title": null}},
           "y": {"field": "x1", "type": "quantitative", "scale": {"domain": [-2, 2], "nice": false, "zero": false}, "axis": {"orient": "right", "values": [-2, 0, 2], "labels": false, "title": null}}
         }}
      ]
    },
    {
      "width": 859, "height": 40,
      "resolve": {"axis": {"x": "independent", "y": "independent"}},
      "data": {"name": "c"},
      "layer": [
        {"mark": {"type": "line", "color": "#0000ff", "strokeWidth": 2.5, "interpolate": "monotone", "clip": true},
         "encoding": {
           "x": {"field": "n", "type": "quantitative", "scale": {"domain": [0, 1000], "nice": false, "zero": false}, "axis": {"values": [0, 200, 400, 600, 800, 1000], "title": null, "labelExpr": "'' + datum.value"}},
           "y": {"field": "x2", "type": "quantitative", "scale": {"domain": [-0.5, 0.5], "nice": false, "zero": false}, "axis": {"values": [-0.5, 0, 0.5], "title": "x₂", "titlePadding": 23, "labelExpr": "datum.value < 0 ? '-' + abs(datum.value) : '' + datum.value"}}
         }},
        {"mark": {"type": "line", "color": "#ff0000", "strokeWidth": 2.5, "strokeDash": [7, 5], "interpolate": "monotone", "clip": true},
         "encoding": {
           "x": {"field": "n", "type": "quantitative", "scale": {"domain": [0, 1000], "nice": false, "zero": false}, "axis": {"orient": "top", "values": [0, 200, 400, 600, 800, 1000], "labels": false, "title": null}},
           "y": {"field": "x2", "type": "quantitative", "scale": {"domain": [-0.5, 0.5], "nice": false, "zero": false}, "axis": {"orient": "right", "values": [-0.5, 0, 0.5], "labels": false, "title": null}}
         }}
      ]
    },
    {
      "width": 859, "height": 40,
      "resolve": {"axis": {"x": "independent", "y": "independent"}},
      "transform": [{"filter": "isValid(datum.x3)"}],
      "data": {"name": "a"},
      "layer": [
        {"mark": {"type": "line", "color": "#0000ff", "strokeWidth": 2.5, "interpolate": "monotone", "clip": true},
         "encoding": {
           "x": {"field": "n", "type": "quantitative", "scale": {"domain": [0, 1000], "nice": false, "zero": false}, "axis": {"values": [0, 200, 400, 600, 800, 1000], "title": null, "labelExpr": "'' + datum.value"}},
           "y": {"field": "x3", "type": "quantitative", "scale": {"domain": [-0.5, 0.5], "nice": false, "zero": false}, "axis": {"values": [-0.5, 0, 0.5], "title": "x₃", "titlePadding": 23, "labelExpr": "datum.value < 0 ? '-' + abs(datum.value) : '' + datum.value"}}
         }},
        {"mark": {"type": "line", "color": "#ff0000", "strokeWidth": 2.5, "strokeDash": [7, 5], "interpolate": "monotone", "clip": true},
         "encoding": {
           "x": {"field": "n", "type": "quantitative", "scale": {"domain": [0, 1000], "nice": false, "zero": false}, "axis": {"orient": "top", "values": [0, 200, 400, 600, 800, 1000], "labels": false, "title": null}},
           "y": {"field": "x3", "type": "quantitative", "scale": {"domain": [-0.5, 0.5], "nice": false, "zero": false}, "axis": {"orient": "right", "values": [-0.5, 0, 0.5], "labels": false, "title": null}}
         }}
      ]
    },
    {
      "width": 859, "height": 40,
      "resolve": {"axis": {"x": "independent", "y": "independent"}},
      "data": {"name": "b"},
      "layer": [
        {"mark": {"type": "line", "color": "#0000ff", "strokeWidth": 2, "clip": true},
         "encoding": {
           "x": {"field": "n", "type": "quantitative", "scale": {"domain": [0, 1000], "nice": false, "zero": false}, "axis": {"values": [0, 200, 400, 600, 800, 1000], "title": null, "labelExpr": "'' + datum.value"}},
           "y": {"field": "a", "type": "quantitative", "scale": {"domain": [-0.2, 0.2], "nice": false, "zero": false}, "axis": {"values": [-0.2, 0, 0.2], "title": "x₄", "titlePadding": 23, "labelExpr": "datum.value < 0 ? '-' + abs(datum.value) : '' + datum.value"}}
         }},
        {"mark": {"type": "line", "opacity": 0},
         "encoding": {
           "x": {"field": "n", "type": "quantitative", "scale": {"domain": [0, 1000], "nice": false, "zero": false}, "axis": {"orient": "top", "values": [0, 200, 400, 600, 800, 1000], "labels": false, "title": null}},
           "y": {"field": "a", "type": "quantitative", "scale": {"domain": [-0.2, 0.2], "nice": false, "zero": false}, "axis": {"orient": "right", "values": [-0.2, 0, 0.2], "labels": false, "title": null}}
         }}
      ]
    },
    {
      "width": 859, "height": 40,
      "resolve": {"axis": {"x": "independent", "y": "independent"}},
      "data": {"name": "b"},
      "layer": [
        {"mark": {"type": "line", "color": "#0000ff", "strokeWidth": 2, "clip": true},
         "encoding": {
           "x": {"field": "n", "type": "quantitative", "scale": {"domain": [0, 1000], "nice": false, "zero": false}, "axis": {"values": [0, 200, 400, 600, 800, 1000], "title": null, "labelExpr": "'' + datum.value"}},
           "y": {"field": "b", "type": "quantitative", "scale": {"domain": [-0.2, 0.2], "nice": false, "zero": false}, "axis": {"values": [-0.2, 0, 0.2], "title": "x₄", "titlePadding": 23, "labelExpr": "datum.value < 0 ? '-' + abs(datum.value) : '' + datum.value"}}
         }},
        {"mark": {"type": "line", "opacity": 0},
         "encoding": {
           "x": {"field": "n", "type": "quantitative", "scale": {"domain": [0, 1000], "nice": false, "zero": false}, "axis": {"orient": "top", "values": [0, 200, 400, 600, 800, 1000], "labels": false, "title": null}},
           "y": {"field": "b", "type": "quantitative", "scale": {"domain": [-0.2, 0.2], "nice": false, "zero": false}, "axis": {"orient": "right", "values": [-0.2, 0, 0.2], "labels": false, "title": null}}
         }}
      ]
    },
    {
      "width": 859, "height": 40,
      "resolve": {"axis": {"x": "independent", "y": "independent"}},
      "data": {"name": "a"},
      "layer": [
        {"mark": {"type": "line", "color": "#0000ff", "strokeWidth": 3, "interpolate": "monotone", "clip": true},
         "encoding": {
           "x": {"field": "n", "type": "quantitative", "scale": {"domain": [0, 1000], "nice": false, "zero": false}, "axis": {"values": [0, 200, 400, 600, 800, 1000], "title": "Samples", "titleFontSize": 26, "titlePadding": 9, "labelExpr": "'' + datum.value"}},
           "y": {"field": "x6", "type": "quantitative", "scale": {"domain": [-0.2, 0.2], "nice": false, "zero": false}, "axis": {"values": [-0.2, 0, 0.2], "title": "x₆", "titlePadding": 23, "labelExpr": "datum.value < 0 ? '-' + abs(datum.value) : '' + datum.value"}}
         }},
        {"mark": {"type": "line", "opacity": 0},
         "encoding": {
           "x": {"field": "n", "type": "quantitative", "scale": {"domain": [0, 1000], "nice": false, "zero": false}, "axis": {"orient": "top", "values": [0, 200, 400, 600, 800, 1000], "labels": false, "title": null}},
           "y": {"field": "x6", "type": "quantitative", "scale": {"domain": [-0.2, 0.2], "nice": false, "zero": false}, "axis": {"orient": "right", "values": [-0.2, 0, 0.2], "labels": false, "title": null}}
         }}
      ]
    }
  ]
}
